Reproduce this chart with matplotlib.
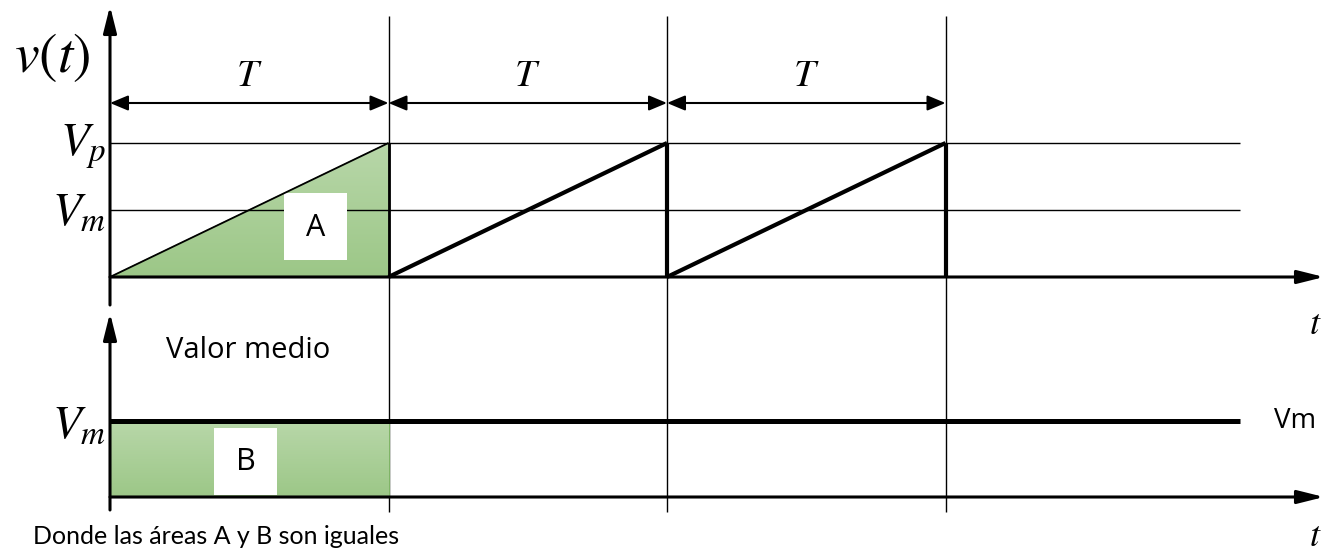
import numpy as np
import matplotlib.pyplot as plt
from matplotlib import font_manager
from matplotlib.patches import Polygon, Rectangle

plt.rcParams["mathtext.fontset"] = "stix"
plt.rcParams["font.family"] = ["Open Sans", "DejaVu Sans"]

installed = {f.name for f in font_manager.fontManager.ttflist}
note_font = "Liberation Sans Narrow" if "Liberation Sans Narrow" in installed else "Lato"
note_size = 21 if note_font == "Liberation Sans Narrow" else 18

# signal data (period T, peak Vp, mean Vm)
T = 1.0
Vp = 1.0
Vm = 0.5
period_starts = [0.0, 1.0, 2.0]
ramp_t = [0.0, 1.0]
ramp_v = [0.0, 1.0]

W, H = 1325, 555
fig = plt.figure(figsize=(W / 100, H / 100), dpi=100)

# pixel layout of the two panels
x0_px, t_px = 110, 278.5
base1_px, v1_px = 277, 134
base2_px, v2_px = 497, 152


def px_t(x):
    return (x - x0_px) / t_px


def px_v1(y):
    return (base1_px - y) / v1_px


def px_v2(y):
    return (base2_px - y) / v2_px


ax1 = fig.add_axes([0, 0, 1, 1])
ax2 = fig.add_axes([0, 0, 1, 1])
for ax in (ax1, ax2):
    ax.set_axis_off()
    ax.patch.set_alpha(0)

green_cmap = plt.matplotlib.colors.LinearSegmentedColormap.from_list(
    "g", ["#9cc787", "#b8d7a9"])
grad = np.linspace(0, 1, 256).reshape(-1, 1)

# area A (first ramp)
triA = Polygon([[0, 0], [T, 0], [T, Vp]], closed=True, fc="none", ec="#7fb466", lw=0.8)
ax1.add_patch(triA)
im = ax1.imshow(grad, extent=[0, T, 0, Vp], origin="lower", cmap=green_cmap,
                aspect="auto", zorder=1)
im.set_clip_path(triA)

# area B (mean value)
rectB = Rectangle((0, 0), T, Vm, fc="none", ec="#7fb466", lw=0.8)
ax2.add_patch(rectB)
im2 = ax2.imshow(grad, extent=[0, T, 0, Vm], origin="lower", cmap=green_cmap,
                 aspect="auto", zorder=1)
im2.set_clip_path(rectB)

for ax in (ax1, ax2):
    ax.set_xlim(px_t(0), px_t(W))
ax1.set_ylim(px_v1(H), px_v1(0))
ax2.set_ylim(px_v2(H), px_v2(0))

# reference lines Vp, Vm
t_end = px_t(1240)
ax1.hlines([Vp, Vm], 0, t_end, colors="k", lw=1.0, zorder=2)

# period separators
ax1.vlines([s + T for s in period_starts], px_v1(512), px_v1(16), colors="k",
           lw=1.0, zorder=2, clip_on=False)

# sawtooth
for i, s in enumerate(period_starts):
    rt = [s + r for r in ramp_t]
    rv = [Vp * r for r in ramp_v]
    ax1.plot(rt, rv, color="k", lw=1.3 if i == 0 else 3.0,
             solid_capstyle="butt", zorder=4)
    ax1.plot([s + T, s + T], [0, Vp], color="k", lw=2.0 if i == 0 else 3.0,
             solid_capstyle="butt", zorder=4)

# mean value line
ax2.plot([0, t_end], [Vm, Vm], color="k", lw=3.6, solid_capstyle="butt", zorder=4)

# axes with arrows
head = "-|>,head_length=0.8,head_width=0.2"
ax_arrow = dict(arrowstyle=head, color="k", lw=2.2, shrinkA=0, shrinkB=0,
                mutation_scale=20)
ax1.annotate("", xy=(0, px_v1(6)), xytext=(0, px_v1(305)), arrowprops=ax_arrow, zorder=5)
ax1.annotate("", xy=(px_t(1324), 0), xytext=(0, 0), arrowprops=ax_arrow, zorder=5)
ax2.annotate("", xy=(0, px_v2(313)), xytext=(0, px_v2(510)), arrowprops=ax_arrow, zorder=5)
ax2.annotate("", xy=(px_t(1324), 0), xytext=(0, 0), arrowprops=ax_arrow, zorder=5)

# period dimension arrows
y_dim = px_v1(103)
for s in period_starts:
    ax1.annotate("", xy=(s + T, y_dim), xytext=(s, y_dim),
                 arrowprops=dict(arrowstyle="<|-|>,head_length=0.55,head_width=0.23",
                                 color="k", lw=1.5, shrinkA=0, shrinkB=0,
                                 mutation_scale=20), zorder=5)
    ax1.text(s + T / 2, px_v1(76), r"$T$", ha="center", va="center", fontsize=28)

# white label boxes
ax1.add_patch(Rectangle((px_t(284), px_v1(260)), px_t(347) - px_t(284),
                        px_v1(193) - px_v1(260), fc="white", ec="none", zorder=3))
ax1.text(px_t(315.5), px_v1(228), "A", ha="center", va="center", fontsize=22, zorder=6)
ax2.add_patch(Rectangle((px_t(214), px_v2(495)), px_t(277) - px_t(214),
                        px_v2(428) - px_v2(495), fc="white", ec="none", zorder=3))
ax2.text(px_t(245.5), px_v2(462), "B", ha="center", va="center", fontsize=22, zorder=6)

# math labels
ax1.text(px_t(52), px_v1(57), r"$v(t)$", ha="center", va="center", fontsize=40)
ax1.text(px_t(106), px_v1(147), r"$V_p$", ha="right", va="center", fontsize=34)
ax1.text(px_t(106), px_v1(212), r"$V_m$", ha="right", va="center", fontsize=34)
ax2.text(px_t(106), px_v2(425), r"$V_m$", ha="right", va="center", fontsize=34)
ax1.text(px_t(1315), px_v1(325), r"$t$", ha="center", va="center", fontsize=26)
ax2.text(px_t(1315), px_v2(537), r"$t$", ha="center", va="center", fontsize=26)

# plain text
ax2.text(px_t(1274), Vm, "Vm", ha="left", va="center", fontsize=20)
ax2.text(px_t(248), px_v2(350), "Valor medio", ha="center", va="center", fontsize=21)
ax2.text(px_t(33), px_v2(536), "Donde las áreas A y B son iguales", ha="left",
         va="center", fontsize=note_size, family=[note_font, "DejaVu Sans"])

fig.savefig("out.png", dpi=100)
